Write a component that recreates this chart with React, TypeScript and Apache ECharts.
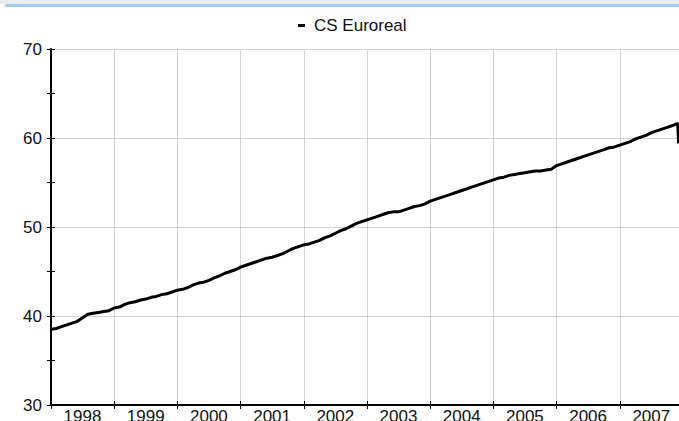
import React, { useEffect, useRef } from "react";
import * as echarts from "echarts";

const seriesName = "CS Euroreal";
const years = [1998, 1999, 2000, 2001, 2002, 2003, 2004, 2005, 2006, 2007];
// monthly values (Jan..Dec) per year
const values1998 = [38.5, 38.6, 38.8, 39.0, 39.2, 39.4, 39.8, 40.2, 40.3, 40.4, 40.5, 40.6];
const values1999 = [40.9, 41.0, 41.3, 41.5, 41.6, 41.8, 41.9, 42.1, 42.2, 42.4, 42.5, 42.7];
const values2000 = [42.9, 43.0, 43.2, 43.5, 43.7, 43.8, 44.0, 44.3, 44.5, 44.8, 45.0, 45.2];
const values2001 = [45.5, 45.7, 45.9, 46.1, 46.3, 46.5, 46.6, 46.8, 47.0, 47.3, 47.6, 47.8];
const values2002 = [48.0, 48.1, 48.3, 48.5, 48.8, 49.0, 49.3, 49.6, 49.8, 50.1, 50.4, 50.6];
const values2003 = [50.8, 51.0, 51.2, 51.4, 51.6, 51.7, 51.7, 51.9, 52.1, 52.3, 52.4, 52.6];
const values2004 = [52.9, 53.1, 53.3, 53.5, 53.7, 53.9, 54.1, 54.3, 54.5, 54.7, 54.9, 55.1];
const values2005 = [55.3, 55.5, 55.6, 55.8, 55.9, 56.0, 56.1, 56.2, 56.3, 56.3, 56.4, 56.5];
const values2006 = [56.9, 57.1, 57.3, 57.5, 57.7, 57.9, 58.1, 58.3, 58.5, 58.7, 58.9, 59.0];
const values2007 = [59.2, 59.4, 59.6, 59.9, 60.1, 60.3, 60.6, 60.8, 61.0, 61.2, 61.4, 61.65];
const finalPoint: [number, number] = [2007.93, 59.4];

const yearly = [
  values1998, values1999, values2000, values2001, values2002,
  values2003, values2004, values2005, values2006, values2007,
];

export default function App() {
  const ref = useRef<HTMLDivElement>(null);
  useEffect(() => {
    if (!ref.current) return;
    const chart = echarts.init(ref.current, undefined, { renderer: "svg" });
    const data: [number, number][] = [];
    years.forEach((y, i) => {
      yearly[i].forEach((v, m) => data.push([y + m / 12, v]));
    });
    data.push(finalPoint);

    const font = "Liberation Sans, Arial, sans-serif";
    const gridColor = "#d2d2d2";

    chart.setOption({
      animation: false,
      backgroundColor: "#ffffff",
      graphic: [
        { type: "rect", shape: { x: 0, y: 0, width: 679, height: 4 }, style: { fill: "#ebebeb" }, silent: true },
        { type: "rect", shape: { x: 5, y: 4, width: 674, height: 3 }, style: { fill: "#9fcbf7" }, silent: true },
      ],
      legend: {
        show: true,
        left: 293,
        top: 12,
        icon: "rect",
        itemWidth: 7,
        itemHeight: 3,
        itemGap: 5,
        textStyle: { fontFamily: font, fontSize: 17, color: "#111", padding: [0, 0, 0, 4] },
        data: [{ name: seriesName, itemStyle: { color: "#000" } }],
      },
      grid: { left: 51, top: 49, bottom: 16, right: -4, containLabel: false, outerBoundsMode: "none" },
      xAxis: [
        {
          type: "value",
          min: 1998,
          max: 2008,
          interval: 1,
          position: "bottom",
          axisLine: { show: true, lineStyle: { color: "#000", width: 2 } },
          axisTick: { show: true, inside: false, length: 4, lineStyle: { color: "#000", width: 1 } },
          splitLine: { show: true, lineStyle: { color: gridColor, width: 1 } },
          axisLabel: {
            show: true,
            showMinLabel: true,
            showMaxLabel: false,
            margin: 3,
            padding: [0, 0, 0, 63],
            fontFamily: font,
            fontSize: 17,
            color: "#111",
            formatter: (v: number) => (v < 2008 && Number.isInteger(v) ? String(v) : ""),
          },
        },
        {
          type: "value",
          min: 1998,
          max: 2008,
          interval: 1,
          position: "bottom",
          axisLine: { show: false },
          axisTick: { show: true, inside: true, length: 4, lineStyle: { color: "#000", width: 1 } },
          splitLine: { show: false },
          axisLabel: { show: false },
        },
      ],
      yAxis: [
        {
          type: "value",
          min: 30,
          max: 70,
          interval: 5,
          position: "left",
          axisLine: { show: true, lineStyle: { color: "#000", width: 2 } },
          axisTick: { show: true, inside: false, length: 4, lineStyle: { color: "#000", width: 1 } },
          splitLine: { show: false },
          axisLabel: {
            show: true,
            margin: 9,
            fontFamily: font,
            fontSize: 17,
            color: "#111",
            formatter: (v: number) => (v % 10 === 0 ? String(v) : ""),
          },
        },
        {
          type: "value",
          min: 30,
          max: 70,
          interval: 5,
          position: "left",
          axisLine: { show: false },
          axisTick: { show: true, inside: true, length: 4, lineStyle: { color: "#000", width: 1 } },
          splitLine: { show: false },
          axisLabel: { show: false },
        },
        {
          type: "value",
          min: 30,
          max: 70,
          interval: 10,
          position: "left",
          axisLine: { show: false },
          axisTick: { show: false },
          splitLine: { show: true, lineStyle: { color: gridColor, width: 1 } },
          axisLabel: { show: false },
        },
      ],
      series: [
        {
          name: seriesName,
          type: "line",
          xAxisIndex: 0,
          yAxisIndex: 0,
          data,
          showSymbol: false,
          symbol: "none",
          lineStyle: { color: "#000", width: 3 },
          itemStyle: { color: "#000" },
          z: 5,
        },
      ],
    });
    return () => chart.dispose();
  }, []);
  return (
    <div
      ref={ref}
      style={{ position: "absolute", left: 0, top: 0, width: 679, height: 421 }}
    />
  );
}
